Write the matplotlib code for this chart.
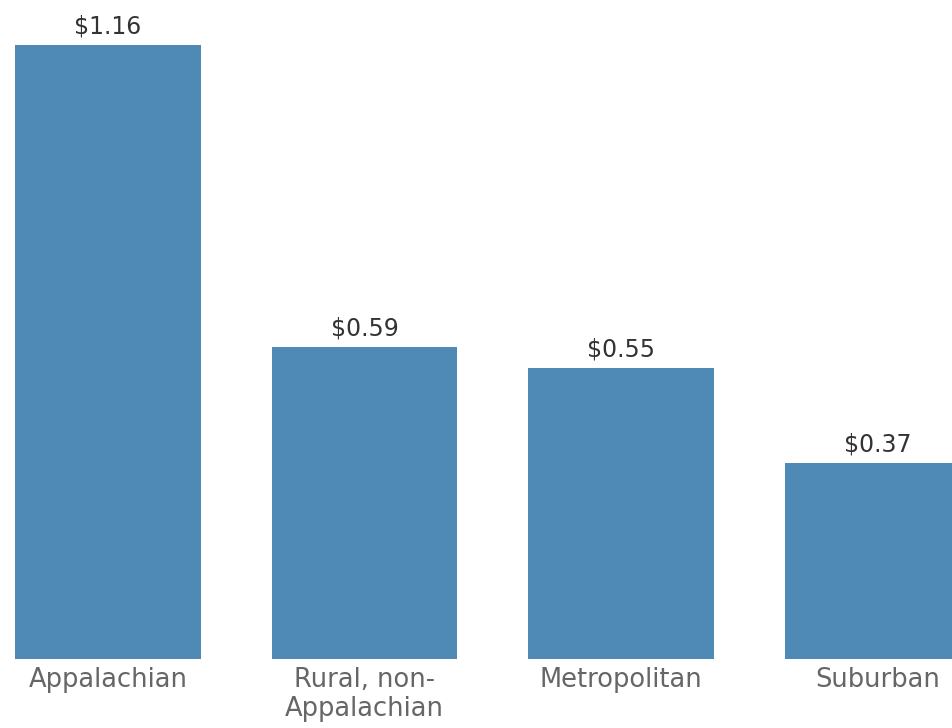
import numpy as np
import matplotlib.pyplot as plt

categories = ["Appalachian", "Rural, non-\nAppalachian", "Metropolitan", "Suburban"]
values = [1.16, 0.59, 0.55, 0.37]
value_labels = ["$1.16", "$0.59", "$0.55", "$0.37"]

bar_color = "#4e8ab5"

fig = plt.figure(figsize=(9.53, 7.28), dpi=100)
ax = fig.add_axes([0, 69/728, 1, 659/728])

x = np.arange(len(categories))
ax.bar(x, values, width=0.725, color=bar_color)

for i in x:
    ax.text(i, values[i] + 0.012, value_labels[i], ha="center", va="bottom",
            fontsize=17, color="#333333")

ax.set_xlim(-108/256.5, (953-108)/256.5)
ax.set_ylim(0, 1.245)
ax.set_xticks(x)
ax.set_xticklabels(categories, fontsize=18.5, color="#666666", linespacing=1.12)
ax.tick_params(axis="x", length=0, pad=6)
ax.set_yticks([])
for s in ax.spines.values():
    s.set_visible(False)

fig.savefig("out.png", dpi=100)
